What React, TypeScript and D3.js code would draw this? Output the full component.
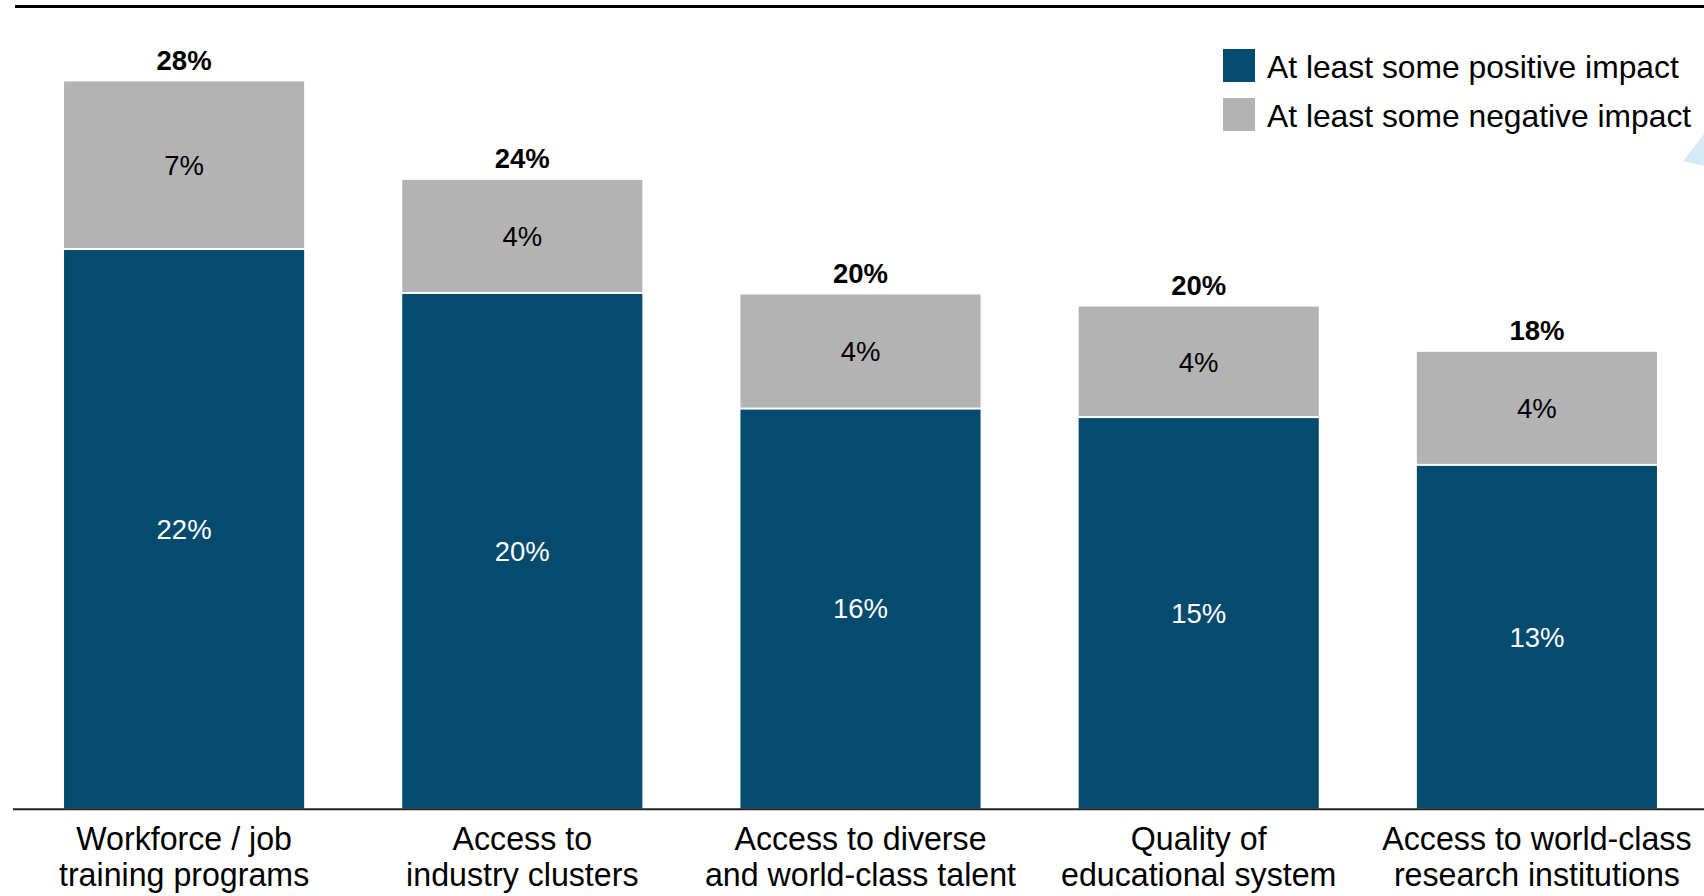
import React from "react";
import * as d3 from "d3";

const categories: string[][] = [
  ["Workforce / job", "training programs"],
  ["Access to", "industry clusters"],
  ["Access to diverse", "and world-class talent"],
  ["Quality of", "educational system"],
  ["Access to world-class", "research institutions"],
];
const positiveValues = [21.77, 20.06, 15.56, 15.23, 13.37];
const negativeValues = [6.52, 4.4, 4.44, 4.3, 4.4];
const legendLabels = ["At least some positive impact", "At least some negative impact"];

const BLUE = "#054B6E";
const GRAY = "#B3B3B3";
const FONT = "'Liberation Sans', Arial, Helvetica, sans-serif";

export default function App() {
  const W = 1704;
  const H = 896;
  const baseY = 808.5;
  const x = d3
    .scaleBand<number>()
    .domain(d3.range(categories.length))
    .range([15, 1706])
    .paddingInner(0.29)
    .paddingOuter(0.145);
  const y = d3.scaleLinear().domain([0, 30]).range([baseY, baseY - 30 * 25.7]);
  const fmt = (v: number) => d3.format(".0f")(v) + "%";

  return (
    <svg
      width={W}
      height={H}
      style={{ position: "absolute", left: 0, top: 0, background: "#fff" }}
      fontFamily={FONT}
    >
      <rect x={0} y={0} width={W} height={H} fill="#fff" />
      {/* top rule */}
      <line x1={15} x2={W} y1={6.5} y2={6.5} stroke="#000" strokeWidth={3} />
      {/* decorative shape */}
      <polygon points="1683,161 1704,134 1704,166" fill="#D6E9F7" />

      {categories.map((cat, i) => {
        const bx = x(i)!;
        const bw = x.bandwidth();
        const cx = bx + bw / 2;
        const pos = positiveValues[i];
        const neg = negativeValues[i];
        const total = pos + neg;
        const ySplit = y(pos);
        const yTop = y(total);
        return (
          <g key={i}>
            <rect x={bx} y={yTop} width={bw} height={ySplit - 1 - yTop} fill={GRAY} />
            <rect x={bx} y={ySplit + 1} width={bw} height={baseY - ySplit - 1} fill={BLUE} />
            <text
              x={cx}
              y={(yTop + ySplit) / 2}
              dy="0.36em"
              textAnchor="middle"
              fontSize={27.5}
              fill="#000"
            >
              {fmt(neg)}
            </text>
            <text
              x={cx}
              y={(ySplit + baseY) / 2}
              dy="0.36em"
              textAnchor="middle"
              fontSize={27.5}
              fill="#fff"
            >
              {fmt(pos)}
            </text>
            <text
              x={cx}
              y={yTop - 11.5}
              textAnchor="middle"
              fontSize={27.5}
              fontWeight="bold"
              fill="#000"
            >
              {fmt(total)}
            </text>
            {cat.map((line, j) => (
              <text
                key={j}
                transform={`translate(${cx},${850 + j * 36}) scale(0.975,1)`}
                textAnchor="middle"
                fontSize={33}
                fill="#000"
              >
                {line}
              </text>
            ))}
          </g>
        );
      })}

      {/* axis line */}
      <line x1={13} x2={W} y1={809.3} y2={809.3} stroke="#222" strokeWidth={2} />

      {/* legend */}
      {legendLabels.map((lab, i) => (
        <g key={lab} transform={`translate(1223,${49 + i * 49})`}>
          <rect x={0} y={0} width={32} height={33} fill={i === 0 ? BLUE : GRAY} />
          <text x={44} y={18} dy="0.36em" fontSize={31.8} fill="#000">
            {lab}
          </text>
        </g>
      ))}
    </svg>
  );
}
